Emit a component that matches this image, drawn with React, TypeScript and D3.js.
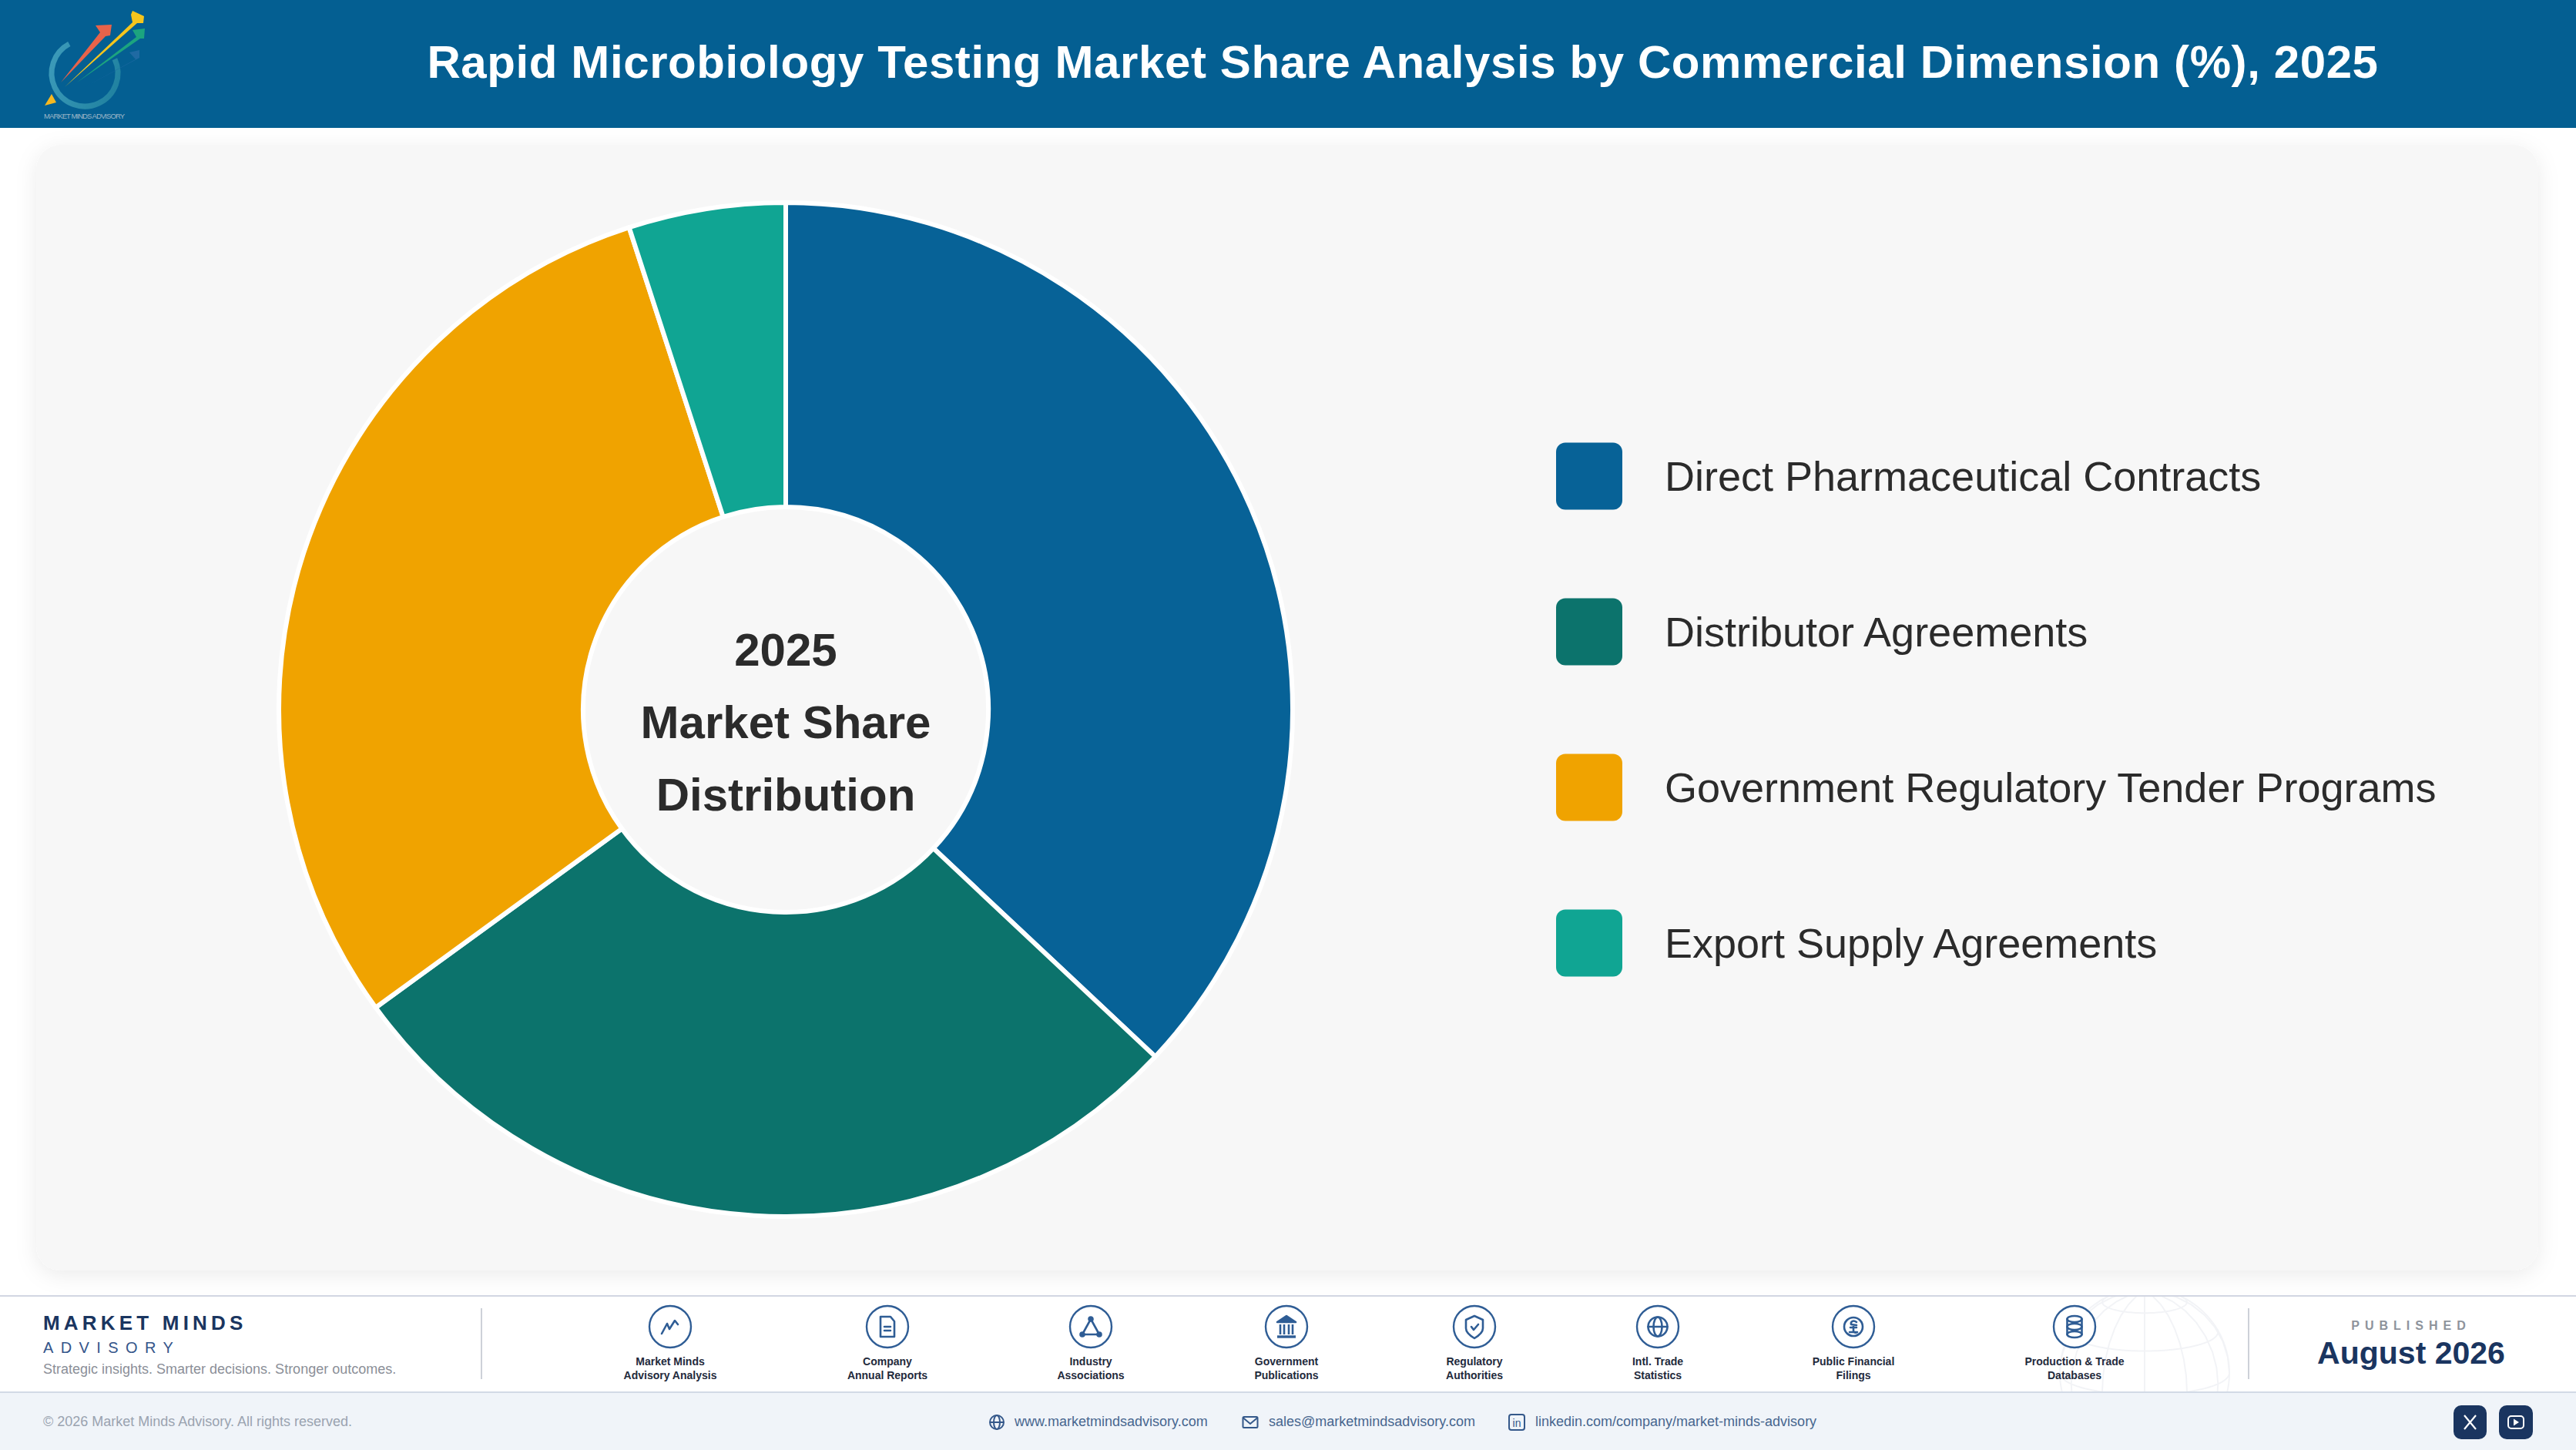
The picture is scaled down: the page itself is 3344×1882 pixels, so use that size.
import * as d3 from "d3"

const segments = [
  "Direct Pharmaceutical Contracts",
  "Distributor Agreements",
  "Government Regulatory Tender Programs",
  "Export Supply Agreements",
]
const shares = [37, 28, 30, 5]
const colors = ["#076297", "#0c736c", "#f0a300", "#10a593"]
const centerLines = ["2025", "Market Share", "Distribution"]

const sources = [
  ["Market Minds", "Advisory Analysis"],
  ["Company", "Annual Reports"],
  ["Industry", "Associations"],
  ["Government", "Publications"],
  ["Regulatory", "Authorities"],
  ["Intl. Trade", "Statistics"],
  ["Public Financial", "Filings"],
  ["Production & Trade", "Databases"],
]
const sourceX = [870, 1152, 1416, 1670, 1914, 2152, 2406, 2693]

const WIDTH = 3344
const HEIGHT = 1882
const FONT = "'Liberation Sans', Arial, sans-serif"
const NAVY = "#1a3560"
const ICON = "#2f5d95"

const CX = 1020
const CY = 921
const R_OUT = 658
const R_IN = 263

const SourceIcon = ({ i }: { i: number }) => {
  const common = { fill: "none", stroke: ICON, strokeWidth: 2.6, strokeLinejoin: "round" as const, strokeLinecap: "round" as const }
  switch (i) {
    case 0:
      return <path {...common} d="M-11,9 L-4,-4 L-1,3 L6,-8 L10,-3" />
    case 1:
      return (
        <g {...common}>
          <path d="M-9,-13 H4 L9,-7 V13 H-9 Z" />
          <path d="M-4,0 H4 M-4,5 H4" />
        </g>
      )
    case 2:
      return (
        <g {...common}>
          <path d="M0,-10 L-11,10 H11 Z" />
          <circle cx={0} cy={-10} r={2.5} fill={ICON} />
          <circle cx={-11} cy={10} r={2.5} fill={ICON} />
          <circle cx={11} cy={10} r={2.5} fill={ICON} />
        </g>
      )
    case 3:
      return (
        <g {...common} strokeLinecap="butt">
          <path d="M-12,-6 L0,-14 L12,-6 Z" fill={ICON} />
          <path d="M-8,-3 V10 M-3,-3 V10 M3,-3 V10 M8,-3 V10" />
          <path d="M-12,13 H12" strokeWidth={3.4} />
        </g>
      )
    case 4:
      return (
        <g {...common}>
          <path d="M0,-14 L11,-9 V2 C11,8 5,12 0,15 C-5,12 -11,8 -11,2 V-9 Z" />
          <path d="M-4,0 L-1,4 L5,-3" />
        </g>
      )
    case 5:
      return (
        <g {...common}>
          <circle r={12.5} />
          <ellipse rx={5.5} ry={12.5} />
          <path d="M-12.5,0 H12.5" />
        </g>
      )
    case 6:
      return (
        <g {...common}>
          <circle r={12} />
          <path d="M4,-6 C0,-9 -4,-7 -3,-3 L4,-2 M-4,1 H4 M0,-2 V5 C0,8 3,8 5,7 M-5,7 H5" />
        </g>
      )
    default:
      return (
        <g {...common}>
          <ellipse cy={-10} rx={9.5} ry={4} />
          <ellipse cy={0} rx={9.5} ry={4} />
          <ellipse cy={10} rx={9.5} ry={4} />
          <path d="M-9.5,-10 V10 M9.5,-10 V10" />
        </g>
      )
  }
}

const Logo = () => (
  <g>
    <circle cx={110} cy={95} r={43} fill="none" stroke="url(#ringGrad)" strokeWidth={7} strokeDasharray="200 70" transform="rotate(-25 110 95)" />
    <path d="M79,107 L130,42 L124,33 L145,32 L143,46 L137,47 Z" fill="#e8634a" />
    <path d="M84,113 L172,29 L170,19 L172,14 L187,21 L186,30 L178,30 Z" fill="#f6c51d" />
    <path d="M100,107 L177,48 L172,39 L188,37 L187,50 L182,50 Z" fill="#1ca47f" />
    <path d="M110,113 L176,77 L168,68 L181,65 L181,75 Z" fill="#1f6aa3" />
    <path d="M58,137 L67,122 L73,133 Z" fill="#f6b820" />
    <text x={57} y={154} fontFamily={FONT} fontSize={9.5} fill="#9fb8c8" textLength={105}>
      MARKET MINDS ADVISORY
    </text>
  </g>
)

export default function App() {
  const pie = d3.pie<number>().sort(null)(shares)
  const arc = d3.arc<d3.PieArcDatum<number>>().innerRadius(R_IN).outerRadius(R_OUT)

  const legendY = d3.scalePoint<string>().domain(segments).range([618, 1224])
  const centerY = d3.scalePoint<string>().domain(centerLines).range([843, 1031])

  const globe = d3.geoOrthographic().scale(110).translate([2784, 1782]).rotate([0, -15])
  const globePath = d3.geoPath(globe)
  const graticule = d3.geoGraticule().step([30, 30])()

  return (
    <svg
      width={WIDTH}
      height={HEIGHT}
      viewBox={`0 0 ${WIDTH} ${HEIGHT}`}
      style={{ position: "absolute", left: 0, top: 0, display: "block" }}
      fontFamily={FONT}
    >
      <defs>
        <filter id="cardShadow" x="-5%" y="-5%" width="110%" height="110%">
          <feDropShadow dx={0} dy={6} stdDeviation={14} floodColor="#000" floodOpacity={0.08} />
        </filter>
        <linearGradient id="ringGrad" x1="0" y1="0" x2="1" y2="1">
          <stop offset="0%" stopColor="#3f9dbc" />
          <stop offset="100%" stopColor="#1d7f9d" />
        </linearGradient>
        <clipPath id="bandClip">
          <rect x={0} y={1683} width={WIDTH} height={123} />
        </clipPath>
      </defs>

      <rect width={WIDTH} height={HEIGHT} fill="#fff" />

      <rect x={0} y={0} width={WIDTH} height={166} fill="#045f92" />
      <Logo />
      <text x={1821} y={101} textAnchor="middle" fill="#fff" fontSize={60} fontWeight={700} letterSpacing={0.6}>
        Rapid Microbiology Testing Market Share Analysis by Commercial Dimension (%), 2025
      </text>

      <rect x={47} y={188} width={3248} height={1461} rx={32} fill="#f7f7f7" filter="url(#cardShadow)" />

      {pie.map((d, i) => (
        <path key={i} d={arc(d)!} transform={`translate(${CX},${CY})`} fill={colors[i]} stroke="#fff" strokeWidth={6} strokeLinejoin="round" />
      ))}
      {centerLines.map((line) => (
        <text key={line} x={CX} y={centerY(line)} dy="0.35em" textAnchor="middle" fill="#2b2b2b" fontSize={60} fontWeight={700}>
          {line}
        </text>
      ))}

      {segments.map((name, i) => (
        <g key={name}>
          <rect x={2020} y={legendY(name)! - 43.5} width={86} height={87} rx={12} fill={colors[i]} />
          <text x={2161} y={legendY(name)} dy="0.35em" fill="#2b2b2b" fontSize={54}>
            {name}
          </text>
        </g>
      ))}

      <rect x={0} y={1681} width={WIDTH} height={2} fill="#d2d6e2" />
      <rect x={0} y={1807} width={WIDTH} height={75} fill="#f0f4f9" />
      <rect x={0} y={1806} width={WIDTH} height={2} fill="#d2dae6" />

      <g clipPath="url(#bandClip)" opacity={0.5}>
        <path d={globePath(graticule)!} fill="none" stroke="#e6e9ef" strokeWidth={2} />
        <path d={globePath({ type: "Sphere" })!} fill="none" stroke="#e6e9ef" strokeWidth={2} />
      </g>

      <text x={56} y={1726} fill={NAVY} fontSize={26} fontWeight={700} letterSpacing={5.2}>
        MARKET MINDS
      </text>
      <text x={56} y={1756} fill="#34558a" fontSize={20} letterSpacing={9.4}>
        ADVISORY
      </text>
      <text x={56} y={1783} fill="#8b8f98" fontSize={18}>
        Strategic insights. Smarter decisions. Stronger outcomes.
      </text>
      <rect x={624} y={1698} width={2} height={92} fill="#cdd1d8" />

      {sources.map((lines, i) => (
        <g key={lines[0]} transform={`translate(${sourceX[i]},0)`}>
          <circle cy={1722} r={27} fill="#fff" stroke={ICON} strokeWidth={2.4} />
          <g transform="translate(0,1722)">
            <SourceIcon i={i} />
          </g>
          {lines.map((l, j) => (
            <text key={l} y={1772 + j * 18} textAnchor="middle" fill="#1f2a3c" fontSize={14} fontWeight={700}>
              {l}
            </text>
          ))}
        </g>
      ))}

      <rect x={2918} y={1698} width={2} height={92} fill="#cdd1d8" />
      <text x={3130} y={1726} textAnchor="middle" fill="#8e939c" fontSize={16} fontWeight={700} letterSpacing={7}>
        PUBLISHED
      </text>
      <text x={3130} y={1770} textAnchor="middle" fill={NAVY} fontSize={41} fontWeight={700}>
        August 2026
      </text>

      <text x={56} y={1851} fill="#9aa3b0" fontSize={18}>
        © 2026 Market Minds Advisory. All rights reserved.
      </text>

      <g fill="none" stroke="#34588a" strokeWidth={2}>
        <g transform="translate(1294,1846)">
          <circle r={9} />
          <ellipse rx={4} ry={9} />
          <path d="M-9,0 H9" />
        </g>
        <g transform="translate(1623,1846)">
          <rect x={-9.5} y={-7} width={19} height={14} rx={1.5} />
          <path d="M-9.5,-6 L0,2 L9.5,-6" />
        </g>
        <g transform="translate(1969,1846)">
          <rect x={-10} y={-10} width={20} height={20} rx={3} />
        </g>
      </g>
      <text x={1969} y={1851.5} textAnchor="middle" fill="#34588a" fontSize={14}>
        in
      </text>
      <text x={1317} y={1851} fill="#47668f" fontSize={18}>
        www.marketmindsadvisory.com
      </text>
      <text x={1647} y={1851} fill="#47668f" fontSize={18}>
        sales@marketmindsadvisory.com
      </text>
      <text x={1993} y={1851} fill="#47668f" fontSize={18}>
        linkedin.com/company/market-minds-advisory
      </text>

      <rect x={3185} y={1824} width={43} height={44} rx={10} fill={NAVY} />
      <path d="M3199,1837 L3214,1855 M3214,1837 L3199,1855" stroke="#fff" strokeWidth={2.2} />
      <rect x={3244} y={1824} width={44} height={44} rx={10} fill={NAVY} />
      <rect x={3256} y={1838} width={20} height={16} rx={4} fill="none" stroke="#fff" strokeWidth={2} />
      <path d="M3263,1841.5 L3270,1846 L3263,1850.5 Z" fill="#fff" />
    </svg>
  )
}
